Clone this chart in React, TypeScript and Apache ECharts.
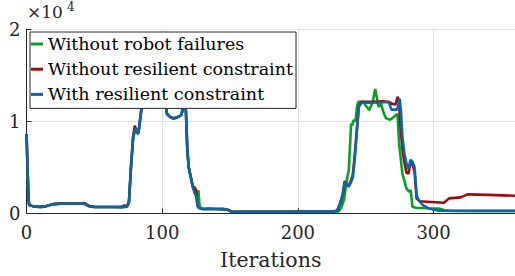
import React, { useEffect, useRef } from 'react';
import * as echarts from 'echarts';

const seriesNames = ['Without robot failures', 'Without resilient constraint', 'With resilient constraint'];
const seriesColors = ['#0A9E2A', '#A30A0F', '#0B67A3'];

const xTicksMax = 360;
const yTickStep = 10000;

const withoutFailures: [number, number][] = [
  [0, 8600], [1.5, 1500], [2, 900], [5, 750], [10, 700], [13, 720], [16, 850], [20, 1000], [25, 1050],
  [30, 1060], [35, 1060], [40, 1060], [43, 1000], [46, 780], [50, 680], [55, 680], [60, 690], [65, 680],
  [70, 670], [74, 720], [75.5, 1200], [77, 5000], [78.5, 8000], [80, 9200], [81.5, 8700], [82.5, 8700],
  [84, 10500], [85.5, 12300], [87, 13500], [90, 14000], [95, 14200], [100, 13800], [102, 12500],
  [103.5, 10800], [105.5, 10500], [108, 10300], [111, 10400], [114, 10650], [115.5, 11500], [116.5, 12800],
  [117.5, 11000], [118.5, 7000], [119.5, 5000], [121, 4000], [122.5, 2900], [124, 2200], [125, 1900],
  [126, 2000], [126.7, 2500], [127.5, 900], [128.5, 500], [130, 470], [135, 480], [140, 470], [145, 450],
  [148, 400], [151, 200], [155, 170], [170, 170], [190, 170], [210, 180], [226, 180], [230, 200],
  [232, 600], [234, 1500], [235.5, 3000], [236.5, 4000], [237.5, 4700], [238.5, 7500], [239.2, 9750],
  [240, 9500], [241, 10100], [242.5, 10000], [243.5, 11500], [244.5, 12100], [248, 12100], [250, 11700],
  [252.5, 11200], [255, 12000], [257, 13500], [259.4, 11550], [261.2, 11900], [263, 11000], [265, 10300],
  [268, 10150], [271, 10500], [273.4, 10800], [274.6, 7600], [277, 4300], [280, 2700], [282, 2350],
  [283.2, 2500], [284.4, 700], [287, 600], [295, 540], [304, 520], [307.7, 360], [312, 280], [330, 260],
  [360, 260],
];

const withoutResilient: [number, number][] = [
  [0, 8600], [1.5, 1500], [2, 900], [5, 750], [10, 700], [13, 720], [16, 850], [20, 1000], [25, 1050],
  [30, 1060], [35, 1060], [40, 1060], [43, 1100], [46, 800], [50, 680], [55, 680], [60, 690], [65, 680],
  [70, 700], [72, 850], [74, 750], [75.5, 1200], [77, 5000], [78.5, 8300], [79.8, 9500], [81.5, 8800],
  [82.5, 8700], [84, 10500], [85.5, 12300], [87, 13500], [90, 14000], [95, 14200], [100, 13800],
  [102, 12500], [103.5, 10800], [105.5, 10500], [108, 10300], [111, 10400], [114, 10650], [115.5, 11500],
  [116.5, 12800], [117.5, 11000], [118.5, 7000], [119.5, 5000], [121, 4000], [122.5, 2900], [124, 2800],
  [125, 2500], [126, 800], [127, 600], [130, 470], [135, 480], [140, 470], [145, 450], [148, 400],
  [151, 200], [155, 170], [170, 170], [190, 170], [210, 180], [226, 180], [229, 300], [231, 1000],
  [233, 2000], [234.5, 3500], [236, 3100], [237.5, 3000], [239, 3500], [240.5, 4200], [242, 6500],
  [243.5, 9200], [245, 11700], [247, 12100], [255, 12100], [262, 12150], [267, 12100], [269, 11900],
  [272, 11800], [273.5, 12650], [274.5, 12200], [275.5, 9500], [277, 7000], [278.5, 5500], [280, 4400],
  [281.5, 4300], [283, 5500], [284.5, 5300], [286, 4500], [287.5, 1600], [290, 1300], [295, 1260],
  [307.7, 1150], [311.4, 1620], [320, 1730], [324.9, 2050], [340, 2000], [360, 1900],
];

const withResilient: [number, number][] = [
  [0, 8600], [1.5, 1500], [2, 900], [5, 750], [10, 700], [13, 720], [16, 850], [20, 1000], [25, 1050],
  [30, 1060], [35, 1060], [40, 1060], [43, 1000], [46, 780], [50, 680], [55, 680], [60, 690], [65, 680],
  [70, 670], [74, 720], [75.5, 1200], [77, 5000], [78.5, 8000], [80, 9200], [81.5, 8700], [82.5, 8700],
  [84, 10500], [85.5, 12300], [87, 13500], [90, 14000], [95, 14200], [100, 13800], [102, 12500],
  [103.5, 10800], [105.5, 10500], [108, 10300], [111, 10400], [114, 10650], [115.5, 11500], [116.5, 12800],
  [117.5, 11000], [118.5, 7000], [119.5, 5000], [121, 4000], [122.5, 2900], [124, 2200], [125, 1900],
  [126, 900], [127, 600], [130, 470], [135, 480], [140, 470], [145, 450], [148, 400], [151, 200],
  [155, 170], [170, 170], [190, 170], [210, 180], [226, 180], [229, 300], [231, 1000], [233, 2000],
  [234.5, 3400], [236, 3100], [237.5, 2900], [239, 3300], [240.5, 3900], [242, 6000], [243.5, 9000],
  [245, 11600], [247, 12000], [255, 12000], [262, 12050], [267, 12050], [269, 11250], [273, 11250],
  [274, 11700], [275, 12450], [276, 11000], [277, 8300], [278.5, 6500], [280, 5400], [281.5, 4800],
  [283, 5800], [284.5, 5600], [286, 5000], [287.5, 2000], [289, 1400], [292, 900], [296, 550],
  [304, 280], [320, 250], [340, 250], [360, 250],
];

const seriesData = [withoutFailures, withoutResilient, withResilient];

const FONT = "'DejaVu Serif', serif";

export default function App() {
  const ref = useRef<HTMLDivElement>(null);
  useEffect(() => {
    if (!ref.current) return;
    const chart = echarts.init(ref.current, undefined, { renderer: 'svg' });
    chart.setOption({
      animation: false,
      backgroundColor: '#fff',
      textStyle: { fontFamily: FONT },
      grid: { left: 26.5, right: 0, top: 29, bottom: 62.7, containLabel: false },
      xAxis: {
        type: 'value',
        min: 0,
        max: xTicksMax,
        interval: 100,
        name: 'Iterations',
        nameLocation: 'middle',
        nameGap: 36.5,
        nameTextStyle: { fontFamily: FONT, fontSize: 20.5, color: '#262626' },
        axisLine: { show: true, onZero: false, lineStyle: { color: '#262626', width: 1 } },
        axisTick: { show: true, inside: true, length: 5, lineStyle: { color: '#262626' } },
        axisLabel: { margin: 10, fontFamily: FONT, fontSize: 18, color: '#262626', showMaxLabel: false },
        splitLine: { show: true, lineStyle: { color: '#e3e3e3', width: 1 } },
      },
      yAxis: {
        type: 'value',
        min: 0,
        max: 2 * yTickStep,
        interval: yTickStep,
        axisLine: { show: true, lineStyle: { color: '#262626', width: 1 } },
        axisTick: { show: true, inside: true, length: 5, lineStyle: { color: '#262626' } },
        axisLabel: {
          margin: 6,
          fontFamily: FONT,
          fontSize: 18,
          color: '#262626',
          formatter: (v: number) => String(v / yTickStep),
        },
        splitLine: { show: true, lineStyle: { color: '#e3e3e3', width: 1 } },
      },
      legend: {
        orient: 'vertical',
        left: 30,
        top: 32,
        z: 20,
        padding: [3, 3, 5, 1],
        itemGap: 7.2,
        itemWidth: 12,
        itemHeight: 3,
        icon: 'rect',
        borderColor: '#262626',
        borderWidth: 1,
        backgroundColor: '#fff',
        textStyle: { fontFamily: FONT, fontSize: 17.5, color: '#000' },
        data: seriesNames,
      },
      graphic: [
        { type: 'text', left: 27, top: 3, z: 30, style: { text: '×10', fontFamily: FONT, fontSize: 17, fill: '#262626' } },
        { type: 'text', left: 67, top: 1, z: 30, style: { text: '4', fontFamily: FONT, fontSize: 12, fill: '#262626' } },
      ],
      series: seriesNames.map((name, i) => ({
        name,
        type: 'line',
        data: seriesData[i],
        showSymbol: false,
        symbol: 'none',
        lineStyle: { color: seriesColors[i], width: 2.6 },
        itemStyle: { color: seriesColors[i] },
        z: 2,
      })),
    });
    return () => chart.dispose();
  }, []);
  return <div ref={ref} style={{ position: 'fixed', left: 0, top: 0, width: 515, height: 276 }} />;
}
